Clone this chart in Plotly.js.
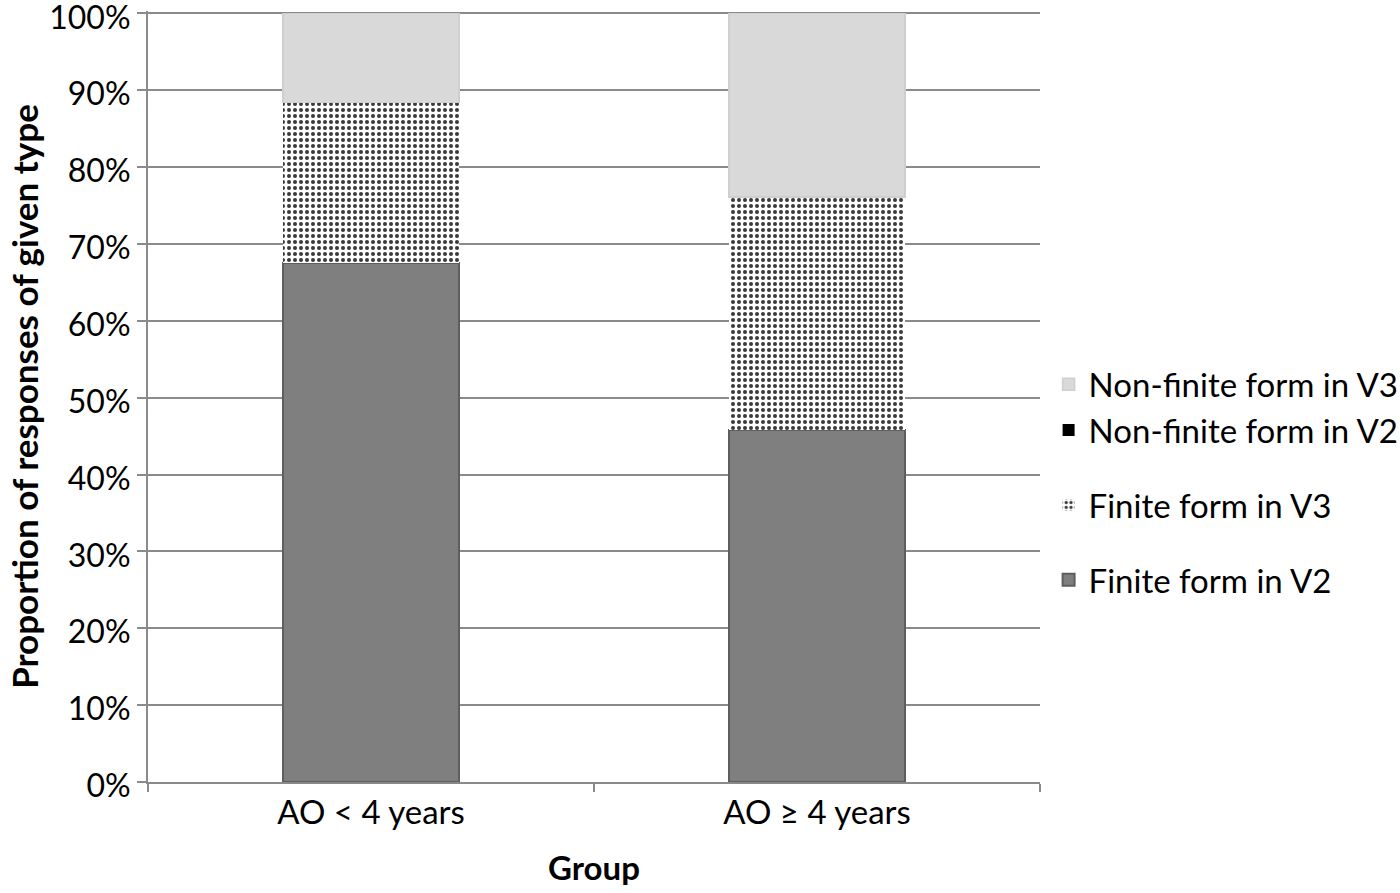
<!DOCTYPE html>
<html>
<head>
<meta charset="utf-8">
<script src="https://cdn.plot.ly/plotly-3.0.1.min.js"></script>
<style>html,body{margin:0;padding:0;background:#fff}#chart{width:1400px;height:893px}</style>
</head>
<body>
<div id="chart"></div>
<script>
const groups = ["AO < 4 years", "AO \u2265 4 years"];
const finiteV2 = [0.675, 0.458];
const finiteV3 = [0.209, 0.303];
const nonFiniteV2 = [0, 0];
const nonFiniteV3 = [0.116, 0.239];
const seriesNames = ["Finite form in V2", "Finite form in V3", "Non-finite form in V2", "Non-finite form in V3"];
const yTickVals = [0, 0.1, 0.2, 0.3, 0.4, 0.5, 0.6, 0.7, 0.8, 0.9, 1.0];
const yTickText = ["0%", "10%", "20%", "30%", "40%", "50%", "60%", "70%", "80%", "90%", "100%"];

const FONT = "Lato, 'Open Sans', sans-serif";
const FS = 33;
const traces = [
  {type:'bar', name:seriesNames[0], x:groups, y:finiteV2, legendgroup:'c', legendrank:4,
   marker:{color:'#7f7f7f', line:{color:'#5e5e5e', width:2}}},
  {type:'bar', name:seriesNames[1], x:groups, y:finiteV3, legendgroup:'b', legendrank:3,
   marker:{color:'#ffffff', line:{color:'#ffffff', width:0},
     pattern:{shape:'.', fgcolor:'#3a3a3a', bgcolor:'#ffffff', size:6, solidity:0.35}}},
  {type:'bar', name:seriesNames[2], x:groups, y:nonFiniteV2, legendgroup:'a', legendrank:2,
   marker:{color:'#000000', line:{color:'#000000', width:0}}},
  {type:'bar', name:seriesNames[3], x:groups, y:nonFiniteV3, legendgroup:'a', legendrank:1,
   marker:{color:'#d9d9d9', line:{color:'#cfcfcf', width:1.5}}}
];

const layout = {
  width:1400, height:893,
  margin:{l:148, r:360, t:11, b:111},
  paper_bgcolor:'#fff', plot_bgcolor:'#fff',
  barmode:'stack', bargap:0.605,
  font:{family:FONT, size:FS, color:'#000'},
  showlegend:true,
  legend:{xref:'container', yref:'container', x:0.749, xanchor:'left', y:0.46, yanchor:'middle',
    traceorder:'grouped', tracegroupgap:29,
    font:{family:FONT, size:FS, color:'#000'}, itemwidth:30},
  xaxis:{
    showline:true, linecolor:'#8a8a8a', linewidth:2,
    ticks:'outside', tickson:'boundaries', ticklen:8, tickcolor:'#8a8a8a', tickwidth:2,
    tickfont:{family:FONT, size:FS},
    title:{text:'<b>Group</b>', font:{family:FONT, size:FS}, standoff:27}
  },
  yaxis:{
    range:[0,1.003], tickmode:'array', tickvals:yTickVals, ticktext:yTickText,
    ticklabeloverflow:'allow', ticklabelshift:4,
    showline:true, linecolor:'#8a8a8a', linewidth:2,
    showgrid:true, gridcolor:'#8a8a8a', gridwidth:2,
    ticks:'outside', ticklen:9, tickcolor:'#8a8a8a', tickwidth:2,
    tickfont:{family:FONT, size:32},
    zeroline:false,
    title:{text:'<b>Proportion of responses of given type</b>', font:{family:FONT, size:35}, standoff:0}
  }
};

Plotly.newPlot('chart', traces, layout, {displayModeBar:false, staticPlot:true});
</script>
</body>
</html>
